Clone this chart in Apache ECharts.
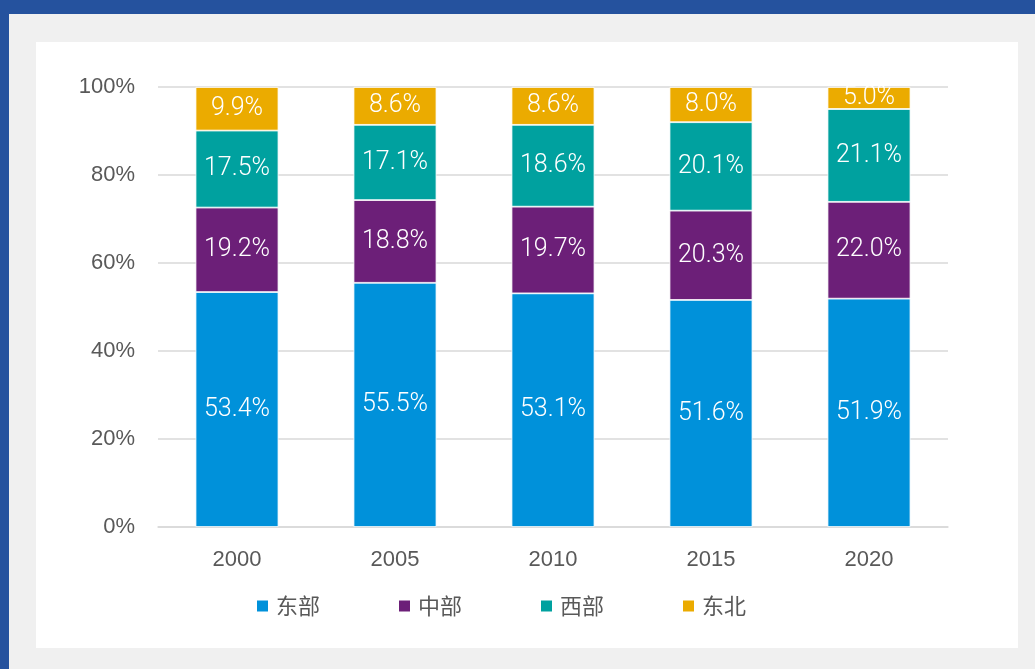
<!DOCTYPE html>
<html>
<head>
<meta charset="utf-8">
<script src="https://cdn.jsdelivr.net/npm/echarts@6/dist/echarts.min.js"></script>
<style>
  html, body { margin: 0; padding: 0; width: 1035px; height: 669px; overflow: hidden; background: #25529e; }
  #panel { position: absolute; left: 9px; top: 14px; width: 1026px; height: 655px; background: #f0f0f0; }
  #card { position: absolute; left: 36px; top: 42px; width: 982px; height: 606px; background: #fff; }
  #main { position: absolute; left: 0; top: 0; width: 1035px; height: 669px; }
</style>
</head>
<body>
<div id="panel"></div>
<div id="card"></div>
<div id="main"></div>
<script>
var chart = echarts.init(document.getElementById('main'));

var years = ['2000', '2005', '2010', '2015', '2020'];
var east = [53.4, 55.5, 53.1, 51.6, 51.9];      // 东部
var central = [19.2, 18.8, 19.7, 20.3, 22.0];   // 中部
var west = [17.5, 17.1, 18.6, 20.1, 21.1];      // 西部
var northeast = [9.9, 8.6, 8.6, 8.0, 5.0];      // 东北

var FONT = "'Liberation Sans', 'Noto Sans CJK SC', sans-serif";

function makeSeries(name, data, color) {
    return {
        name: name,
        type: 'bar',
        stack: 'total',
        barWidth: '52.5%',
        data: data,
        itemStyle: {
            color: color,
            borderColor: '#fff',
            borderWidth: 0.8
        },
        label: {
            show: true,
            position: 'inside',
            color: '#fff',
            fontSize: 25,
            fontWeight: 300,
            fontFamily: "Roboto, sans-serif",
            formatter: function (p) {
                return p.value.toFixed(1) + '%';
            }
        }
    };
}

var option = {
    animation: false,
    textStyle: { fontFamily: FONT },
    grid: {
        left: 158,
        right: 87,
        top: 87,
        bottom: 142
    },
    legend: {
        top: 590,
        left: 250,
        itemWidth: 13,
        itemHeight: 13,
        itemGap: 77,
        icon: 'rect',
        textStyle: {
            color: '#595959',
            fontSize: 22,
            padding: [0, 0, 0, 2],
            fontFamily: "'Noto Sans CJK SC', sans-serif"
        },
        data: ['东部', '中部', '西部', '东北']
    },
    xAxis: {
        type: 'category',
        data: years,
        axisLine: { lineStyle: { color: '#d9d9d9', width: 1.5 } },
        axisTick: { show: false },
        axisLabel: {
            color: '#595959',
            fontSize: 22,
            margin: 22
        }
    },
    yAxis: {
        type: 'value',
        min: 0,
        max: 100,
        interval: 20,
        axisLine: { show: false },
        axisTick: { show: false },
        axisLabel: {
            color: '#595959',
            fontSize: 22,
            margin: 23,
            formatter: '{value}%'
        },
        splitLine: { lineStyle: { color: '#d9d9d9', width: 1.5 } }
    },
    series: [
        makeSeries('东部', east, '#0091da'),
        makeSeries('中部', central, '#6c1f78'),
        makeSeries('西部', west, '#00a19f'),
        makeSeries('东北', northeast, '#ebab00')
    ]
};

chart.setOption(option);
</script>
</body>
</html>
